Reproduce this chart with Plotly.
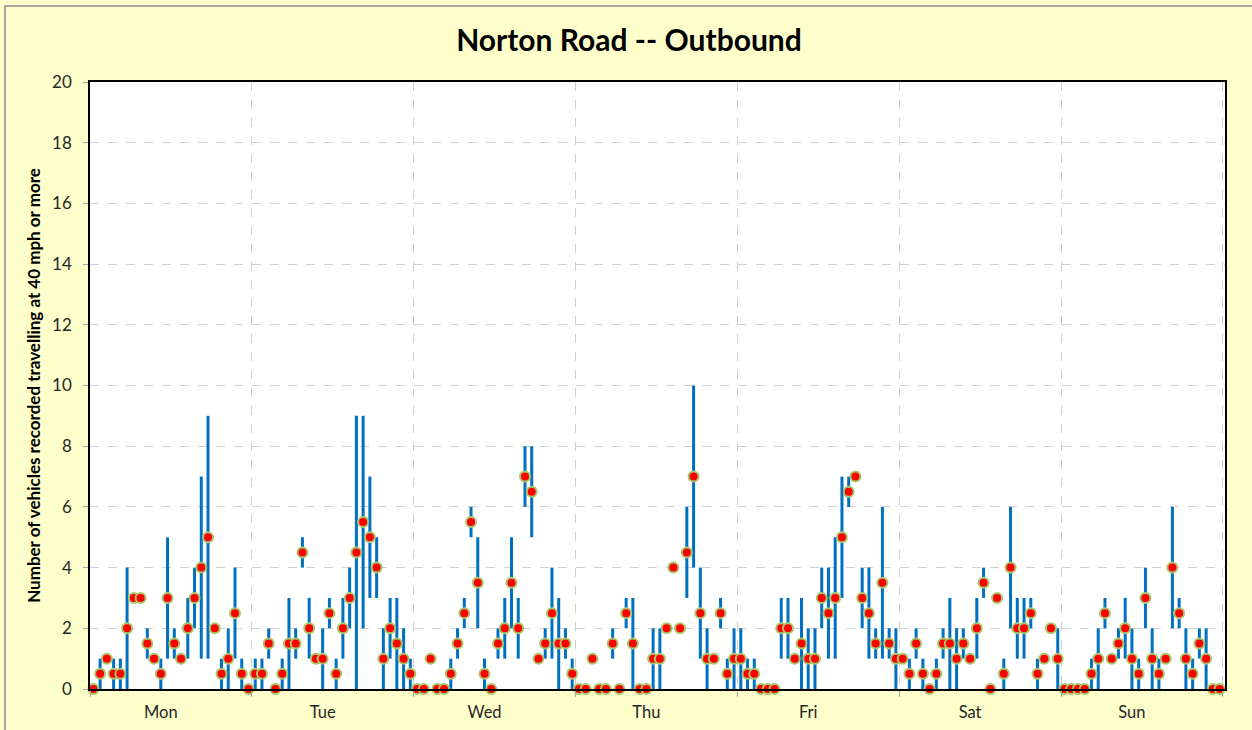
import plotly.graph_objects as go

days = ["Mon", "Tue", "Wed", "Thu", "Fri", "Sat", "Sun"]

mon_mean = [0, 0.5, 1, 0.5, 0.5, 2, 3, 3, 1.5, 1, 0.5, 3, 1.5, 1, 2, 3, 4, 5, 2, 0.5, 1, 2.5, 0.5, 0]
mon_min = [0, 0, 1, 0, 0, 0, 3, 3, 1, 1, 0, 1, 1, 1, 1, 2, 1, 1, 2, 0, 0, 1, 0, 0]
mon_max = [0, 1, 1, 1, 1, 4, 3, 3, 2, 1, 1, 5, 2, 1, 3, 4, 7, 9, 2, 1, 2, 4, 1, 0]

tue_mean = [0.5, 0.5, 1.5, 0, 0.5, 1.5, 1.5, 4.5, 2, 1, 1, 2.5, 0.5, 2, 3, 4.5, 5.5, 5, 4, 1, 2, 1.5, 1, 0.5]
tue_min = [0, 0, 1, 0, 0, 0, 1, 4, 1, 1, 0, 2, 0, 1, 2, 0, 2, 3, 3, 0, 1, 0, 0, 0]
tue_max = [1, 1, 2, 0, 1, 3, 2, 5, 3, 1, 2, 3, 1, 3, 4, 9, 9, 7, 5, 2, 3, 3, 2, 1]

wed_mean = [0, 0, 1, 0, 0, 0.5, 1.5, 2.5, 5.5, 3.5, 0.5, 0, 1.5, 2, 3.5, 2, 7, 6.5, 1, 1.5, 2.5, 1.5, 1.5, 0.5]
wed_min = [0, 0, 1, 0, 0, 0, 1, 2, 5, 2, 0, 0, 1, 1, 2, 1, 6, 5, 1, 1, 1, 0, 1, 0]
wed_max = [0, 0, 1, 0, 0, 1, 2, 3, 6, 5, 1, 0, 2, 3, 5, 3, 8, 8, 1, 2, 4, 3, 2, 1]

thu_mean = [0, 0, 1, 0, 0, 1.5, 0, 2.5, 1.5, 0, 0, 1, 1, 2, 4, 2, 4.5, 7, 2.5, 1, 1, 2.5, 0.5, 1]
thu_min = [0, 0, 1, 0, 0, 1, 0, 2, 0, 0, 0, 0, 0, 2, 4, 2, 3, 4, 1, 0, 1, 2, 0, 0]
thu_max = [0, 0, 1, 0, 0, 2, 0, 3, 3, 0, 0, 2, 2, 2, 4, 2, 6, 10, 4, 2, 1, 3, 1, 2]

fri_mean = [1, 0.5, 0.5, 0, 0, 0, 2, 2, 1, 1.5, 1, 1, 3, 2.5, 3, 5, 6.5, 7, 3, 2.5, 1.5, 3.5, 1.5, 1]
fri_min = [0, 0, 0, 0, 0, 0, 1, 1, 1, 0, 0, 0, 2, 1, 1, 3, 6, 7, 2, 1, 1, 1, 1, 0]
fri_max = [2, 1, 1, 0, 0, 0, 3, 3, 1, 3, 2, 2, 4, 4, 5, 7, 7, 7, 4, 4, 2, 6, 2, 2]

sat_mean = [1, 0.5, 1.5, 0.5, 0, 0.5, 1.5, 1.5, 1, 1.5, 1, 2, 3.5, 0, 3, 0.5, 4, 2, 2, 2.5, 0.5, 1, 2, 1]
sat_min = [1, 0, 1, 0, 0, 0, 1, 0, 0, 1, 1, 1, 3, 0, 3, 0, 2, 1, 1, 2, 0, 1, 2, 0]
sat_max = [1, 1, 2, 1, 0, 1, 2, 3, 2, 2, 1, 3, 4, 0, 3, 1, 6, 3, 3, 3, 1, 1, 2, 2]

sun_mean = [0, 0, 0, 0, 0.5, 1, 2.5, 1, 1.5, 2, 1, 0.5, 3, 1, 0.5, 1, 4, 2.5, 1, 0.5, 1.5, 1, 0, 0]
sun_min = [0, 0, 0, 0, 0, 0, 2, 1, 1, 1, 0, 0, 2, 0, 0, 1, 2, 2, 0, 0, 1, 0, 0, 0]
sun_max = [0, 0, 0, 0, 1, 2, 3, 1, 2, 3, 2, 1, 4, 2, 1, 1, 6, 3, 2, 1, 2, 2, 0, 0]

y_ticks = [0, 2, 4, 6, 8, 10, 12, 14, 16, 18, 20]

means = mon_mean + tue_mean + wed_mean + thu_mean + fri_mean + sat_mean + sun_mean
mins = mon_min + tue_min + wed_min + thu_min + fri_min + sat_min + sun_min
maxs = mon_max + tue_max + wed_max + thu_max + fri_max + sat_max + sun_max

hours = 24
x = [i + 0.5 for i in range(len(means))]
err_plus = [mx - m for mx, m in zip(maxs, means)]
err_minus = [m - mn for m, mn in zip(means, mins)]

FONT = "Lato, 'Open Sans', sans-serif"

fig = go.Figure()
fig.add_trace(go.Scatter(
    x=x, y=means, mode="markers",
    marker=dict(color="#FF0000", size=10, line=dict(color="#A8C66C", width=2)),
    error_y=dict(type="data", symmetric=False, array=err_plus, arrayminus=err_minus,
                 color="#0070C0", thickness=3, width=0),
    cliponaxis=False, showlegend=False,
))

fig.update_layout(
    width=1252, height=730,
    margin=dict(l=90, r=27, t=82, b=41, autoexpand=False),
    paper_bgcolor="#FFFFCC", plot_bgcolor="#FFFFFF",
    font=dict(family=FONT, color="#262626"),
    title=dict(text="<b>Norton Road -- Outbound</b>", x=629 / 1252, xref="container",
               xanchor="center", y=1 - 40 / 730, yref="container", yanchor="middle",
               font=dict(size=30, color="#000000", family=FONT)),
    shapes=[dict(type="rect", xref="paper", yref="paper",
                 x0=(5 - 90) / 1135, x1=(1262 - 90) / 1135,
                 y0=1 - (740 - 82) / 607, y1=1 + (82 - 6) / 607,
                 line=dict(color="#8C8C8C", width=1.5), fillcolor="rgba(0,0,0,0)",
                 layer="below")],
)

fig.update_xaxes(
    range=[0, 168.3], automargin=False,
    tickvals=[d * hours + 10.5 for d in range(len(days))], ticktext=days,
    ticks="", showgrid=False, tickfont=dict(size=16.5, color="#262626"),
    ticklabelstandoff=7,
    minor=dict(tick0=0, dtick=hours, ticks="outside", ticklen=6, tickcolor="#A6A6A6",
               showgrid=True, gridcolor="#D0D0D0", griddash="dash", gridwidth=1),
    showline=True, linecolor="#000000", linewidth=1.5, mirror=True, zeroline=False,
)
fig.update_yaxes(
    range=[0, 20], tickvals=y_ticks, automargin=False,
    ticks="outside", ticklen=5, tickcolor="#A6A6A6",
    tickfont=dict(size=17, color="#262626"), ticklabelstandoff=8,
    showgrid=True, gridcolor="#D0D0D0", griddash="dash", gridwidth=1,
    showline=True, linecolor="#000000", linewidth=1.5, mirror=True, zeroline=False,
    title=dict(text="<b>Number of vehicles recorded travelling at 40 mph or more</b>",
               font=dict(size=17, color="#000000", family=FONT), standoff=7),
)

fig.write_html("out.html", config={"displayModeBar": False},
               post_script="document.body.style.margin='0';")
